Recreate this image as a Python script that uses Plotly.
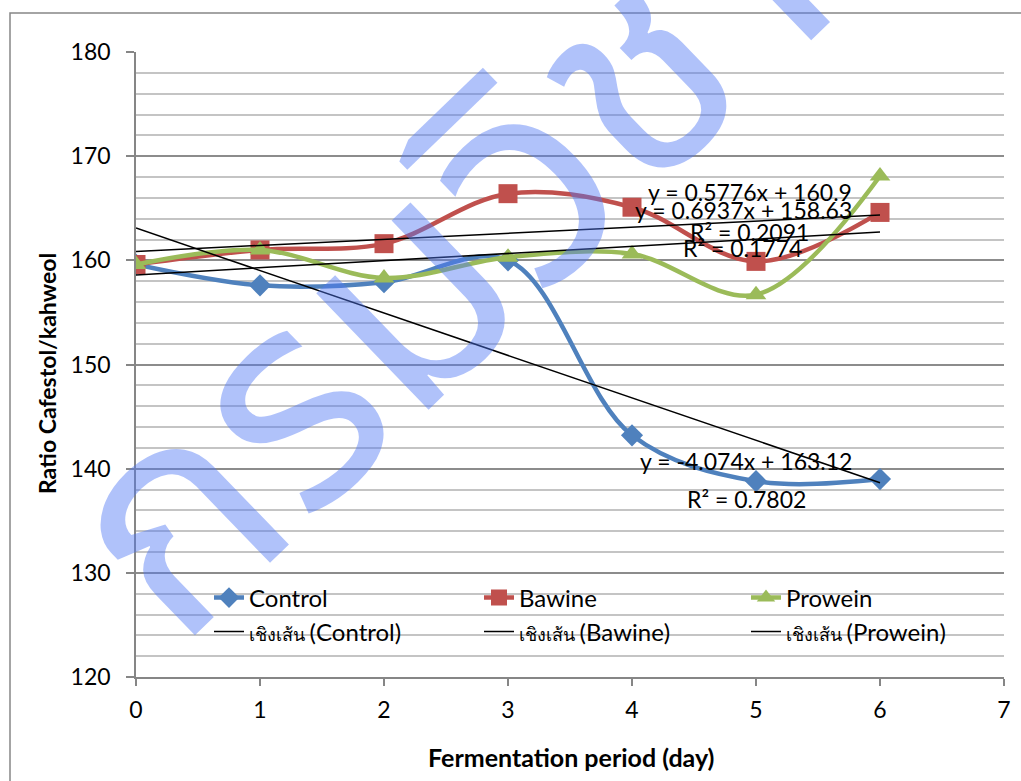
import numpy as np
import plotly.graph_objects as go

# ---- data ----
days = [0, 1, 2, 3, 4, 5, 6]
control = [159.6, 157.6, 157.9, 160.0, 143.2, 138.8, 139.0]
bawine = [159.6, 161.0, 161.6, 166.4, 165.1, 159.9, 164.6]
prowein = [159.6, 161.0, 158.3, 160.3, 160.6, 156.7, 168.1]
series_names = ["Control", "Bawine", "Prowein"]
trend_prefix = "เชิงเส้น"
eq_texts = {
    "Control": ["y = -4.074x + 163.12", "R² = 0.7802"],
    "Bawine": ["y = 0.5776x + 160.9", "R² = 0.2091"],
    "Prowein": ["y = 0.6937x + 158.63", "R² = 0.1774"],
}
y_ticks = [120, 130, 140, 150, 160, 170, 180]
x_ticks = [0, 1, 2, 3, 4, 5, 6, 7]
x_title = "Fermentation period (day)"
y_title = "Ratio Cafestol/kahweol"
watermark = "กรมวิชาการเกษตร"

colors = {"Control": "#4F81BD", "Bawine": "#C0504D", "Prowein": "#9BBB59"}
symbols = {"Control": "diamond", "Bawine": "square", "Prowein": "triangle-up"}
msizes = {"Control": 17, "Bawine": 19, "Prowein": 18}
values = {"Control": control, "Bawine": bawine, "Prowein": prowein}

W, H = 1021, 781
ML, MR, MT, MB = 136, 17, 52, 104
PW, PH = W - ML - MR, H - MT - MB

def px2paper_x(px):
    return (px - ML) / PW

def px2paper_y(py):
    return (H - MB - py) / PH

FONT = "Lato, 'Open Sans', sans-serif"

fig = go.Figure()

# legend column positions (legend box left in px) and row centers
leg_cols = [209, 479, 746]
leg_rows = [598, 632]

for i, name in enumerate(series_names):
    fig.add_trace(go.Scatter(
        x=days, y=values[name], name=name, mode="lines+markers",
        line=dict(color=colors[name], width=4.5, shape="spline"),
        marker=dict(symbol=symbols[name], size=msizes[name], color=colors[name]),
        legend="legend" if i == 0 else f"legend{i + 1}",
    ))

for i, name in enumerate(series_names):
    slope, icpt = np.polyfit(days, values[name], 1)
    xs = np.array([days[0], days[-1]], dtype=float)
    fig.add_trace(go.Scatter(
        x=xs, y=slope * xs + icpt, mode="lines",
        name=f"<span style='font-size:18px'>{trend_prefix} </span>({name})",
        line=dict(color="black", width=1.5),
        legend=f"legend{i + 4}",
    ))

# equation labels (positions in data units)
eq_pos = {
    "Control": [(4.92, 140.7), (4.92, 137.1)],
    "Bawine": [(4.95, 166.6), (4.95, 162.7)],
    "Prowein": [(4.90, 164.85), (4.89, 161.2)],
}
for name in series_names:
    for txt, (ex, ey) in zip(eq_texts[name], eq_pos[name]):
        fig.add_annotation(x=ex, y=ey, xref="x", yref="y", text=txt,
                           showarrow=False, xanchor="center", yanchor="middle",
                           font=dict(family=FONT, size=23, color="black"))

# axis titles
fig.add_annotation(x=px2paper_x(571), y=px2paper_y(757), xref="paper", yref="paper",
                   text=f"<b>{x_title}</b>", showarrow=False,
                   xanchor="center", yanchor="middle",
                   font=dict(family=FONT, size=25, color="black"))
fig.add_annotation(x=px2paper_x(47), y=px2paper_y(374), xref="paper", yref="paper",
                   text=f"<b>{y_title}</b>", showarrow=False, textangle=-90,
                   xanchor="center", yanchor="middle",
                   font=dict(family=FONT, size=23, color="black"))

# watermark
fig.add_annotation(x=px2paper_x(891), y=px2paper_y(-162), xref="paper", yref="paper",
                   text=watermark, showarrow=False, textangle=-44,
                   xanchor="center", yanchor="middle",
                   font=dict(family="'Noto Sans Thai', 'Noto Sans', sans-serif",
                             size=295, color="rgba(80,120,245,0.45)"))

# chart area border
fig.add_shape(type="rect", xref="paper", yref="paper",
              x0=px2paper_x(10), y0=px2paper_y(900), x1=px2paper_x(1100), y1=px2paper_y(13),
              line=dict(color="#868686", width=1.5), fillcolor="rgba(0,0,0,0)", layer="below")

leg_common = dict(orientation="h", bgcolor="rgba(0,0,0,0)",
                  xanchor="left", yanchor="middle",
                  font=dict(family=FONT, size=24, color="black"), itemsizing="trace")
legends = {}
for r in range(2):
    for c in range(3):
        k = r * 3 + c
        key = "legend" if k == 0 else f"legend{k + 1}"
        legends[key] = dict(x=px2paper_x(leg_cols[c]), y=px2paper_y(leg_rows[r]), **leg_common)

fig.update_layout(
    width=W, height=H,
    margin=dict(l=ML, r=MR, t=MT, b=MB, autoexpand=False),
    paper_bgcolor="white", plot_bgcolor="white",
    font=dict(family=FONT, color="black"),
    showlegend=True,
    **legends,
)

fig.update_xaxes(
    range=[0, 7], tickvals=x_ticks, ticktext=[str(v) for v in x_ticks],
    showgrid=False, zeroline=False,
    showline=True, linecolor="#868686", linewidth=1.5,
    ticks="outside", ticklen=7, tickcolor="#868686", tickwidth=1.5,
    tickfont=dict(family=FONT, size=23, color="black"), ticklabelstandoff=5,
)
fig.update_yaxes(
    range=[120, 180], tickvals=y_ticks, ticktext=[str(v) for v in y_ticks],
    showgrid=True, gridcolor="#8C8C8C", gridwidth=1.5, zeroline=False,
    showline=True, linecolor="#868686", linewidth=1.5,
    ticks="outside", ticklen=8, tickcolor="#868686", tickwidth=1.5,
    tickfont=dict(family=FONT, size=23, color="black"), ticklabelstandoff=11,
    minor=dict(dtick=2, showgrid=True, gridcolor="#C4C4C4", gridwidth=1.5, ticks=""),
)

fig.write_html("out.html")
